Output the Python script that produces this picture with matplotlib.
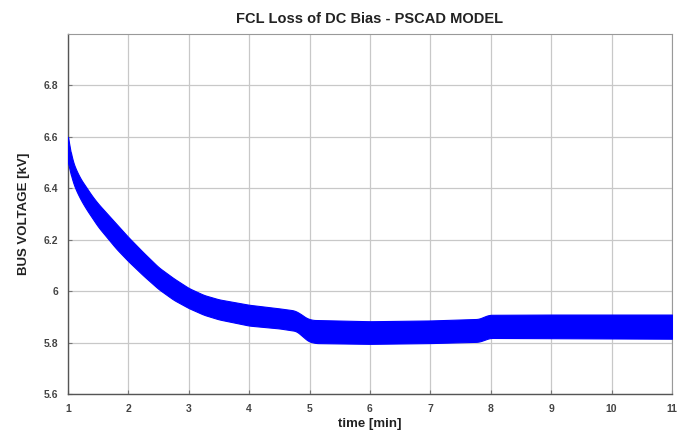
import matplotlib.pyplot as plt
import numpy as np

# envelope of the bus voltage band
t_upper = [1.0, 1.03, 1.06, 1.1, 1.2, 1.3, 1.4, 1.5, 1.75, 2.0, 2.25, 2.5, 2.75, 3.0, 3.25,
           3.5, 4.0, 4.5, 4.75, 4.85, 4.95, 5.05, 6.0, 7.0, 7.8, 7.88, 7.97, 9.0, 11.0]
v_upper = [6.60, 6.56, 6.52, 6.49, 6.44, 6.405, 6.37, 6.34, 6.275, 6.21, 6.15, 6.093, 6.05, 6.012, 5.985,
           5.968, 5.947, 5.933, 5.925, 5.912, 5.895, 5.888, 5.883, 5.886, 5.892, 5.900, 5.908, 5.909, 5.909]
t_lower = [1.0, 1.03, 1.06, 1.1, 1.2, 1.3, 1.5, 1.8, 2.0, 2.25, 2.5, 2.75, 3.0, 3.25, 3.5, 4.0, 4.5,
           4.78, 4.88, 4.98, 5.1, 6.0, 7.0, 7.8, 7.9, 7.98, 9.0, 11.0]
v_lower = [6.50, 6.47, 6.44, 6.41, 6.36, 6.32, 6.25, 6.165, 6.116, 6.06, 6.008, 5.966, 5.934, 5.908, 5.89,
           5.866, 5.855, 5.845, 5.825, 5.805, 5.798, 5.795, 5.798, 5.803, 5.811, 5.818, 5.817, 5.815]

x_ticks = [1, 2, 3, 4, 5, 6, 7, 8, 9, 10, 11]
y_ticks = [5.6, 5.8, 6.0, 6.2, 6.4, 6.6, 6.8]
y_tick_labels = ["5.6", "5.8", "6", "6.2", "6.4", "6.6", "6.8"]

plt.rcParams["font.family"] = ["Liberation Sans", "DejaVu Sans"]


def smooth(y, n):
    # moving average with edge padding, just to round off the corners
    pad = np.pad(y, n, mode="edge")
    k = np.ones(2 * n + 1) / (2 * n + 1)
    return np.convolve(pad, k, mode="valid")


fig = plt.figure(figsize=(6.77, 4.42), dpi=100)
ax = fig.add_axes([0.1004, 0.1086, 0.8922, 0.8144])

t = np.linspace(1, 11, 4001)
up = np.interp(t, t_upper, v_upper)
lo = np.interp(t, t_lower, v_lower)
up[20:] = smooth(up, 20)[20:]
lo[20:] = smooth(lo, 20)[20:]
ax.fill_between(t, lo, up, color="#0000ff", linewidth=0.8, edgecolor="#0000ff", zorder=3)

ax.set_xlim(1, 11)
ax.set_ylim(5.6, 7.0)
ax.set_xticks(x_ticks)
ax.set_yticks(y_ticks)
ax.set_yticklabels(y_tick_labels)
ax.grid(True, color="#c8c8c8", linewidth=0.9)
ax.set_axisbelow(True)
ax.tick_params(direction="in", length=3, width=0.8, colors="#777777",
               labelcolor="#444444", labelsize=7.5, pad=7)
for lab in ax.get_xticklabels() + ax.get_yticklabels():
    lab.set_fontweight("bold")
for side in ["left", "bottom"]:
    ax.spines[side].set_color("#555555")
    ax.spines[side].set_linewidth(1.0)
for side in ["top", "right"]:
    ax.spines[side].set_color("#999999")
    ax.spines[side].set_linewidth(0.8)

ax.set_title("FCL Loss of DC Bias - PSCAD MODEL", fontsize=10.5, fontweight="bold",
             color="#222222", pad=8)
ax.set_xlabel("time [min]", fontsize=9.5, fontweight="bold", color="#222222", labelpad=3)
ax.set_ylabel("BUS VOLTAGE [kV]", fontsize=9.5, fontweight="bold", color="#222222", labelpad=10)

fig.savefig("out.png", dpi=100)
